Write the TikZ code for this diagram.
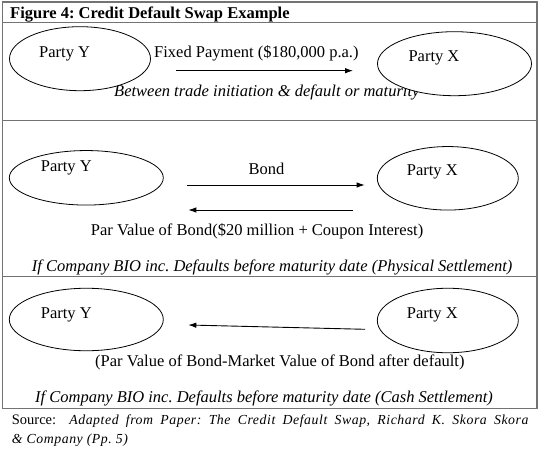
\documentclass[tikz,border=0pt]{standalone}
\usepackage{fontspec}
\setmainfont{Liberation Serif}
\newfontfamily\srcfont[LetterSpace=4]{Liberation Serif}
\usetikzlibrary{shapes.geometric,arrows.meta}

\begin{document}
\frenchspacing
\begin{tikzpicture}[x=1pt,y=-1pt,
  party/.style={draw,ellipse,fill=white,line width=0.8pt,inner sep=0pt},
  frameline/.style={draw=black!55,line width=1.2pt},
  flow/.style={-{Latex[length=8pt,width=5.5pt]},line width=0.9pt},
  txt/.style={anchor=base west,inner sep=0pt,font=\fontsize{16.5}{20}\selectfont},
  note/.style={txt,font=\fontsize{16.5}{20}\selectfont\itshape}]

\useasboundingbox (0,0) rectangle (543,449);

%draw frame and panel lines
\draw[frameline] (2.7,2) rectangle (537,408.3);
\foreach \y in {22.7,120.7,276.5}
	{
	\draw[frameline] (2.7,\y)--(537,\y);
	}

%label figure
\node[txt,font=\fontsize{16.5}{20}\selectfont\bfseries] (title) at (10,18.3) {Figure 4: Credit Default Swap Example};

%first panel: fixed payment
\node[note] (between) at (114,96.5) {Between trade initiation \& default or maturity};
\node[party,minimum width=141pt,minimum height=64pt] (y1) at (80,58.7) {};
\node[party,minimum width=154pt,minimum height=64pt] (x1) at (454.5,63.7) {};
\node[txt] (y1lbl) at (39,57.3) {Party Y};
\node[txt] (x1lbl) at (408.3,61.7) {Party X};
\node[txt] (fixed) at (154,57.5) {Fixed Payment (\$180,000 p.a.)};
\coordinate (a1s) at (176,70.7);
\coordinate (a1e) at (353,70.7);
\draw[flow] (a1s)--(a1e);

%second panel: physical settlement
\node[party,minimum width=154pt,minimum height=54.5pt] (y2) at (86.3,177.8) {};
\node[party,minimum width=141pt,minimum height=63.5pt] (x2) at (447.8,178.3) {};
\node[txt] (y2lbl) at (40.7,171.7) {Party Y};
\node[txt] (x2lbl) at (406.7,176) {Party X};
\node[txt] (bond) at (248.3,175) {Bond};
\coordinate (b1s) at (187.3,185);
\coordinate (b1e) at (364.7,185);
\coordinate (b2s) at (353.3,210);
\coordinate (b2e) at (188.3,210);
\draw[flow] (b1s)--(b1e);
\draw[flow] (b2s)--(b2e);
\node[txt] (par) at (90.7,235) {Par Value of Bond(\$20 million + Coupon Interest)};
\node[note] (physical) at (31.7,271.7) {If Company BIO inc. Defaults before maturity date (Physical Settlement)};

%third panel: cash settlement
\node[party,minimum width=154pt,minimum height=62.5pt] (y3) at (86.3,319.5) {};
\node[party,minimum width=141pt,minimum height=64.5pt] (x3) at (447.8,320.5) {};
\node[txt] (y3lbl) at (40.7,318.3) {Party Y};
\node[txt] (x3lbl) at (406.7,318.3) {Party X};
\coordinate (c1s) at (365,329.3);
\coordinate (c1e) at (188.3,325);
\draw[flow] (c1s)--(c1e);
\node[txt] (diff) at (95,366.7) {(Par Value of Bond-Market Value of Bond after default)};
\node[note] (cash) at (35,402.5) {If Company BIO inc. Defaults before maturity date (Cash Settlement)};

%source line
\node[anchor=base west,inner sep=0pt] (source) at (11.7,424.5) {\makebox[516.6pt][s]{\fontsize{14.5}{17}\selectfont Source:\ \ {\srcfont\fontsize{13.8}{16}\selectfont\itshape Adapted from Paper: The Credit Default Swap, Richard K. Skora Skora}}};
\node[anchor=base west,inner sep=0pt,font=\srcfont\fontsize{13.8}{16}\selectfont\itshape] (source2) at (11.7,443.5) {\& Company (Pp. 5)};

\end{tikzpicture}
\end{document}
